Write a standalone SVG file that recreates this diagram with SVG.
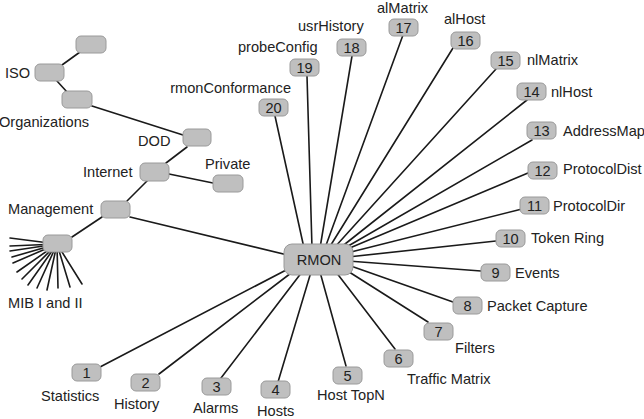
<svg xmlns="http://www.w3.org/2000/svg" width="644" height="419" viewBox="0 0 644 419">
<style>
.b{fill:#bfbfbf;stroke:#9a9a9a;stroke-width:1}
.l{stroke:#1a1a1a;stroke-width:1.6;fill:none;stroke-linecap:round}
text{font-family:"Liberation Sans",Arial,sans-serif;font-size:14.6px;fill:#222}
.n{text-anchor:middle}
</style>
<rect width="644" height="419" fill="#fff"/>
<g id="connectors" class="l">
<line x1="62" y1="65" x2="80" y2="52"/>
<line x1="57" y1="81" x2="67" y2="92"/>
<line x1="92" y1="106" x2="183" y2="135"/>
<line x1="187" y1="147" x2="166" y2="163"/>
<line x1="169" y1="174" x2="213" y2="183"/>
<line x1="147" y1="181" x2="127" y2="201"/>
<line x1="102" y1="217" x2="72" y2="237"/>
<line x1="130" y1="217" x2="300" y2="258"/>
<g id="fan">
<line x1="57" y1="244" x2="10" y2="238"/>
<line x1="57" y1="244" x2="10" y2="246"/>
<line x1="57" y1="244" x2="10" y2="251"/>
<line x1="57" y1="244" x2="12" y2="257"/>
<line x1="57" y1="244" x2="13" y2="263"/>
<line x1="57" y1="244" x2="17" y2="272"/>
<line x1="57" y1="244" x2="22" y2="279"/>
<line x1="57" y1="244" x2="28" y2="285"/>
<line x1="57" y1="244" x2="37" y2="288"/>
<line x1="57" y1="244" x2="47" y2="290"/>
<line x1="57" y1="244" x2="58" y2="288"/>
<line x1="57" y1="244" x2="70" y2="287"/>
<line x1="57" y1="244" x2="82" y2="284"/>
</g>
<line x1="100" y1="367" x2="290" y2="268"/>
<line x1="159" y1="374" x2="295" y2="270"/>
<line x1="221" y1="378" x2="302" y2="272"/>
<line x1="278" y1="382" x2="311" y2="272"/>
<line x1="346" y1="366" x2="320" y2="272"/>
<line x1="395" y1="349" x2="336" y2="272"/>
<line x1="428" y1="322" x2="346" y2="270"/>
<line x1="453" y1="302" x2="348" y2="265"/>
<line x1="481" y1="271" x2="348" y2="261"/>
<line x1="496" y1="241" x2="348" y2="257"/>
<line x1="522" y1="209" x2="347" y2="253"/>
<line x1="528" y1="173" x2="345" y2="250"/>
<line x1="532" y1="140" x2="343" y2="249"/>
<line x1="527" y1="100" x2="340" y2="248"/>
<line x1="496" y1="69" x2="334" y2="248"/>
<line x1="453" y1="48" x2="329" y2="248"/>
<line x1="403" y1="35" x2="325" y2="248"/>
<line x1="352" y1="56" x2="320" y2="248"/>
<line x1="307" y1="76" x2="312" y2="248"/>
<line x1="275" y1="116" x2="304" y2="248"/>
</g>
<g id="top"><rect class="b" x="76" y="36" width="30" height="17" rx="5"/></g>
<g id="iso"><rect class="b" x="35" y="64" width="29" height="17" rx="5"/><text x="5" y="78">ISO</text></g>
<g id="organizations"><rect class="b" x="62" y="91" width="30" height="17" rx="5"/><text x="-1" y="127">Organizations</text></g>
<g id="dod"><rect class="b" x="183" y="129" width="28" height="17" rx="5"/><text x="138" y="146">DOD</text></g>
<g id="internet"><rect class="b" x="140" y="163" width="29" height="18" rx="5"/><text x="83" y="177">Internet</text></g>
<g id="private"><rect class="b" x="213" y="175" width="30" height="17" rx="5"/><text x="205" y="169">Private</text></g>
<g id="management"><rect class="b" x="101" y="201" width="29" height="17" rx="5"/><text x="8" y="214">Management</text></g>
<g id="mib"><rect class="b" x="43" y="235" width="29" height="17" rx="5"/><text x="8" y="308">MIB I and II</text></g>
<g id="rmon"><rect class="b" x="284" y="244" width="69" height="31" rx="8"/><text class="n" x="319" y="265">RMON</text></g>
<g id="n1"><rect class="b" x="72" y="364" width="29" height="17" rx="5"/><text class="n" x="86.5" y="377.5">1</text><text x="41" y="401">Statistics</text></g>
<g id="n2"><rect class="b" x="131" y="374" width="29" height="17" rx="5"/><text class="n" x="145.5" y="387.5">2</text><text x="114" y="409">History</text></g>
<g id="n3"><rect class="b" x="202" y="378" width="29" height="17" rx="5"/><text class="n" x="216.5" y="391.5">3</text><text x="193" y="413">Alarms</text></g>
<g id="n4"><rect class="b" x="261" y="381" width="29" height="17" rx="5"/><text class="n" x="275.5" y="394.5">4</text><text x="257" y="416">Hosts</text></g>
<g id="n5"><rect class="b" x="333" y="367" width="29" height="17" rx="5"/><text class="n" x="347.5" y="380.5">5</text><text x="317" y="400">Host TopN</text></g>
<g id="n6"><rect class="b" x="384" y="350" width="29" height="17" rx="5"/><text class="n" x="398.5" y="363.5">6</text><text x="407" y="384">Traffic Matrix</text></g>
<g id="n7"><rect class="b" x="424" y="323" width="29" height="17" rx="5"/><text class="n" x="438.5" y="336.5">7</text><text x="455" y="353">Filters</text></g>
<g id="n8"><rect class="b" x="453" y="297" width="29" height="17" rx="5"/><text class="n" x="467.5" y="310.5">8</text><text x="487" y="311">Packet Capture</text></g>
<g id="n9"><rect class="b" x="481" y="264" width="29" height="17" rx="5"/><text class="n" x="495.5" y="277.5">9</text><text x="515" y="278">Events</text></g>
<g id="n10"><rect class="b" x="496" y="230" width="29" height="17" rx="5"/><text class="n" x="510.5" y="243.5">10</text><text x="531" y="243">Token Ring</text></g>
<g id="n11"><rect class="b" x="520" y="197" width="29" height="17" rx="5"/><text class="n" x="534.5" y="210.5">11</text><text x="553" y="211">ProtocolDir</text></g>
<g id="n12"><rect class="b" x="528" y="162" width="29" height="17" rx="5"/><text class="n" x="542.5" y="175.5">12</text><text x="563" y="174">ProtocolDist</text></g>
<g id="n13"><rect class="b" x="527" y="122" width="29" height="17" rx="5"/><text class="n" x="541.5" y="135.5">13</text><text x="563" y="136">AddressMap</text></g>
<g id="n14"><rect class="b" x="517" y="83" width="29" height="17" rx="5"/><text class="n" x="531.5" y="96.5">14</text><text x="551" y="97">nlHost</text></g>
<g id="n15"><rect class="b" x="491" y="52" width="29" height="17" rx="5"/><text class="n" x="505.5" y="65.5">15</text><text x="527" y="65">nlMatrix</text></g>
<g id="n16"><rect class="b" x="451" y="32" width="29" height="17" rx="5"/><text class="n" x="465.5" y="45.5">16</text><text x="444" y="24">alHost</text></g>
<g id="n17"><rect class="b" x="389" y="19" width="29" height="17" rx="5"/><text class="n" x="403.5" y="32.5">17</text><text x="377" y="13">alMatrix</text></g>
<g id="n18"><rect class="b" x="337" y="39" width="29" height="17" rx="5"/><text class="n" x="351.5" y="52.5">18</text><text x="298" y="31">usrHistory</text></g>
<g id="n19"><rect class="b" x="290" y="59" width="29" height="17" rx="5"/><text class="n" x="304.5" y="72.5">19</text><text x="238" y="52">probeConfig</text></g>
<g id="n20"><rect class="b" x="259" y="99" width="29" height="17" rx="5"/><text class="n" x="273.5" y="112.5">20</text><text x="291" y="93" text-anchor="end">rmonConformance</text></g>
</svg>
